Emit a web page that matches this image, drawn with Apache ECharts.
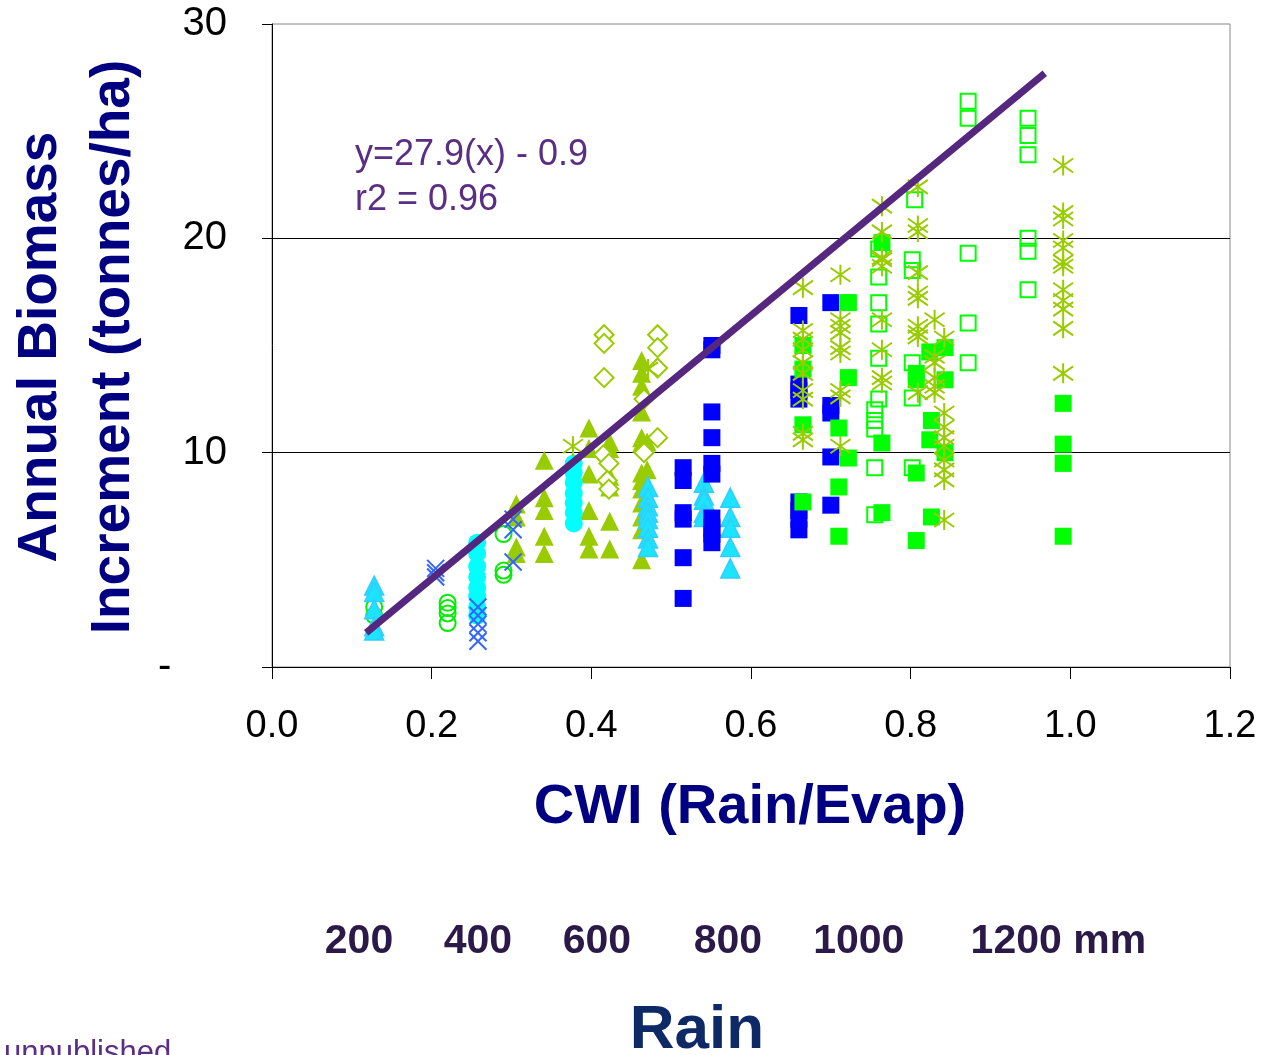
<!DOCTYPE html>
<html>
<head>
<meta charset="utf-8">
<script src="https://cdn.jsdelivr.net/npm/echarts@6/dist/echarts.min.js"></script>
<style>
  html, body { margin: 0; padding: 0; background: #fff; }
  #main { width: 1265px; height: 1055px; }
</style>
</head>
<body>
<div id="main"></div>
<script>
// data: [CWI, biomass increment]
const cyanTri = [
  [0.128,3.8],[0.128,3.5],[0.128,2.7],[0.128,1.9],[0.128,1.7],
  [0.471,8.4],[0.471,7.9],[0.471,7.5],[0.471,7.2],[0.471,6.9],[0.471,6.5],[0.471,6.0],[0.471,5.6],
  [0.541,8.6],[0.541,8.0],[0.541,7.8],[0.541,7.2],[0.541,7.0],
  [0.574,7.9],[0.574,7.0],[0.574,6.5],[0.574,5.6],[0.574,4.6]
];
const greenCircle = [[0.128,2.8],[0.128,2.4],[0.22,3.0],[0.22,2.75],[0.22,2.5],[0.22,2.05],[0.29,6.2],[0.29,4.5],[0.29,4.3]];
const blueX = [[0.205,4.6],[0.205,4.4],[0.205,4.2],[0.258,2.8],[0.258,2.4],[0.258,2.0],[0.258,1.6],[0.258,1.2],[0.302,6.9],[0.302,6.4],[0.302,4.9]];
const cyanCircle = [
  [0.257,5.8],[0.257,5.3],[0.257,4.7],[0.257,4.2],[0.257,3.7],[0.257,3.3],[0.257,2.8],[0.257,2.4],
  [0.378,9.5],[0.378,9.05],[0.378,8.6],[0.378,8.1],[0.378,7.65],[0.378,7.2],[0.378,6.7]
];
const oliveTri = [
  [0.306,7.6],[0.306,7.0],[0.306,5.6],[0.306,5.3],
  [0.341,9.65],[0.341,7.9],[0.341,7.3],[0.341,6.1],[0.341,5.3],
  [0.397,11.15],[0.397,10.2],[0.397,9.0],[0.397,7.3],[0.397,6.1],[0.397,5.5],
  [0.423,10.5],[0.423,10.2],[0.423,8.9],[0.423,8.4],[0.423,6.8],[0.423,5.5],
  [0.463,14.3],[0.463,13.7],[0.463,13.1],[0.463,11.9],[0.463,10.7],[0.463,10.45],[0.463,9.05],[0.463,8.7],
  [0.463,8.3],[0.463,7.65],[0.463,7.0],[0.463,6.4],[0.463,5.0],[0.47,10.5],[0.47,9.2]
];
const oliveDiamond = [
  [0.416,15.5],[0.416,15.1],[0.416,13.5],[0.415,9.9],[0.422,9.5],[0.42,8.7],[0.422,8.3],
  [0.466,12.5],[0.466,10.0],[0.483,15.5],[0.483,14.9],[0.483,13.95],[0.483,10.7]
];
const blueSquare = [
  [0.515,9.3],[0.515,8.7],[0.515,7.2],[0.515,6.9],[0.515,5.1],[0.515,3.2],
  [0.551,15.0],[0.551,14.8],[0.551,11.9],[0.551,10.7],[0.551,9.5],[0.551,9.0],[0.551,6.95],[0.551,6.5],[0.551,6.2],[0.551,5.8],
  [0.66,16.4],[0.66,13.2],[0.66,12.9],[0.66,12.5],[0.66,7.7],[0.66,7.3],[0.66,6.9],[0.66,6.4],
  [0.70,17.0],[0.70,12.2],[0.70,11.85],[0.70,9.8],[0.70,7.55]
];
const greenSquare = [
  [0.665,15.0],[0.665,13.9],[0.665,11.3],[0.665,7.7],
  [0.722,17.0],[0.722,13.5],[0.71,11.15],[0.722,9.75],[0.71,8.4],[0.71,6.1],
  [0.764,19.8],[0.764,10.45],[0.764,7.2],
  [0.807,13.7],[0.807,13.4],[0.807,9.05],[0.807,5.9],
  [0.824,14.7],[0.826,11.5],[0.824,10.6],[0.826,7.0],
  [0.843,14.9],[0.843,13.4],[0.843,10.0],
  [0.991,12.3],[0.991,10.4],[0.991,9.5],[0.991,6.1]
];
const greenOpenSquare = [
  [0.76,19.5],[0.76,18.2],[0.76,17.0],[0.76,16.0],[0.76,14.4],[0.76,12.5],[0.755,12.0],[0.755,11.5],[0.755,11.1],[0.755,9.3],[0.755,7.1],
  [0.805,21.8],[0.802,19.0],[0.802,18.5],[0.802,14.2],[0.802,12.55],[0.802,9.3],
  [0.872,26.4],[0.872,25.6],[0.872,19.3],[0.872,16.05],[0.872,14.2],
  [0.947,25.6],[0.947,24.8],[0.947,23.9],[0.947,20.0],[0.947,19.4],[0.947,17.6]
];
const oliveStar = [
  [0.665,17.7],[0.665,15.7],[0.665,15.3],[0.665,14.8],[0.665,14.2],[0.665,13.7],[0.665,12.9],[0.665,12.5],[0.665,10.9],[0.665,10.6],
  [0.712,18.3],[0.712,16.2],[0.712,15.9],[0.712,15.6],[0.712,14.9],[0.712,14.65],[0.712,12.9],[0.712,12.6],[0.712,10.3],
  [0.764,21.5],[0.764,20.3],[0.764,19.1],[0.764,19.0],[0.764,18.7],[0.764,16.2],[0.764,14.8],[0.764,13.5],[0.764,13.25],
  [0.809,22.4],[0.809,20.6],[0.809,20.3],[0.809,18.4],[0.809,17.45],[0.809,17.2],[0.809,15.9],[0.809,15.6],[0.809,15.4],[0.809,12.8],
  [0.83,16.2],[0.83,14.5],[0.83,14.2],[0.83,13.5],[0.83,13.1],[0.83,12.8],
  [0.842,15.35],[0.842,11.85],[0.842,11.2],[0.842,10.7],[0.842,10.3],[0.842,9.66],[0.842,9.2],[0.842,8.73],[0.842,6.86],
  [0.991,23.4],[0.991,21.2],[0.991,20.9],[0.991,19.9],[0.991,19.55],[0.991,18.9],[0.991,18.7],[0.991,17.6],[0.991,17.1],
  [0.991,16.7],[0.991,15.8],[0.991,13.7],
  [0.377,10.3],[0.471,13.9]
];
const fitLine = [[0.118,1.6],[0.968,27.7]];

const rainLabels = ['200','400','600','800','1000','1200 mm'];
const rainCwi = [0.109,0.258,0.407,0.571,0.735,0.985];

const xTicks = {min: 0, max: 1.2, interval: 0.2};
const yTicks = {min: 0, max: 30, interval: 10};

const FONT = '"Liberation Sans", Arial, sans-serif';
const X_PATH = 'path://M0 0L10 10M10 0L0 10';
const STAR_PATH = 'path://M5 0L5 10M0 1.5L10 8.5M10 1.5L0 8.5';

function scatter(data, symbol, size, style) {
  return {type: 'scatter', data: data, symbol: symbol, symbolSize: size,
          itemStyle: Object.assign({opacity: 1}, style), animation: false};
}

const chart = echarts.init(document.getElementById('main'));
chart.setOption({
  backgroundColor: '#fff',
  animation: false,
  grid: {left: 272, right: 35, top: 24, bottom: 388, show: true, borderColor: '#888', borderWidth: 1},
  xAxis: {
    type: 'value', min: xTicks.min, max: xTicks.max, interval: xTicks.interval,
    axisLine: {lineStyle: {color: '#000', width: 1}},
    axisTick: {show: true, length: 12, lineStyle: {color: '#000'}},
    splitLine: {show: false},
    axisLabel: {color: '#000', fontSize: 38, fontFamily: FONT, margin: 41, formatter: v => v.toFixed(1)}
  },
  yAxis: {
    type: 'value', min: yTicks.min, max: yTicks.max, interval: yTicks.interval,
    axisLine: {show: true, lineStyle: {color: '#000', width: 1}},
    axisTick: {show: true, length: 10, lineStyle: {color: '#000'}},
    splitLine: {show: true, showMinLine: false, showMaxLine: false, lineStyle: {color: '#000', width: 1}},
    axisLabel: {color: '#000', fontSize: 40, fontFamily: FONT, margin: 45,
      formatter: v => v === 0 ? '-     ' : String(v)}
  },
  series: [
    scatter(oliveTri, 'triangle', 19, {color: '#99CC00'}),
    scatter(oliveDiamond, 'diamond', 19, {color: '#fff', borderColor: '#99CC00', borderWidth: 2}),
    scatter(greenCircle, 'circle', 16, {color: 'rgba(0,0,0,0)', borderColor: '#00EE00', borderWidth: 2}),
    scatter(cyanCircle, 'circle', 18, {color: '#00FFFF'}),
    scatter(blueX, X_PATH, 17, {color: 'rgba(0,0,0,0)', borderColor: '#3366FF', borderWidth: 2}),
    scatter(cyanTri, 'triangle', 19, {color: '#1BE4FF', borderColor: '#33CCFF', borderWidth: 1.5}),
    scatter(blueSquare, 'rect', 17, {color: '#0000FF'}),
    scatter(greenSquare, 'rect', 17, {color: '#00FF00'}),
    scatter(greenOpenSquare, 'rect', 15, {color: 'rgba(0,0,0,0)', borderColor: '#00FF00', borderWidth: 2}),
    scatter(oliveStar, STAR_PATH, 20, {color: 'rgba(0,0,0,0)', borderColor: '#99CC00', borderWidth: 2}),
    {type: 'line', data: fitLine, symbol: 'none', z: 10, animation: false,
     lineStyle: {color: '#55277F', width: 7}}
  ]
});

// free text around the chart
const rainTexts = rainLabels.map((t, i) => ({
  type: 'text',
  x: chart.convertToPixel({xAxisIndex: 0}, rainCwi[i]),
  y: 942,
  style: {text: t, font: 'bold 41px ' + FONT, fill: '#2B1A48', textAlign: 'center', textVerticalAlign: 'middle'}
}));

chart.setOption({
  graphic: [
    {type: 'text', x: 77, y: 347, rotation: Math.PI / 2,
     style: {text: 'Annual Biomass\nIncrement (tonnes/ha)', font: 'bold 55px ' + FONT, fill: '#000080',
             textAlign: 'center', textVerticalAlign: 'middle', lineHeight: 73}},
    {type: 'text', x: 750, y: 808,
     style: {text: 'CWI (Rain/Evap)', font: 'bold 56px ' + FONT, fill: '#000080', textAlign: 'center', textVerticalAlign: 'middle'}},
    {type: 'text', x: 355, y: 155,
     style: {text: 'y=27.9(x) - 0.9', font: '36px ' + FONT, fill: '#5A2E85', textAlign: 'left', textVerticalAlign: 'middle'}},
    {type: 'text', x: 355, y: 200,
     style: {text: 'r2 = 0.96', font: '36px ' + FONT, fill: '#5A2E85', textAlign: 'left', textVerticalAlign: 'middle'}},
    ...rainTexts,
    {type: 'text', x: 697, y: 1031,
     style: {text: 'Rain', font: 'bold 62px ' + FONT, fill: '#0E2A66', textAlign: 'center', textVerticalAlign: 'middle'}},
    {type: 'text', x: 4, y: 1038,
     style: {text: 'unpublished', font: '31px ' + FONT, fill: '#5A2E85', textAlign: 'left', textVerticalAlign: 'top'}}
  ]
});
</script>
</body>
</html>
